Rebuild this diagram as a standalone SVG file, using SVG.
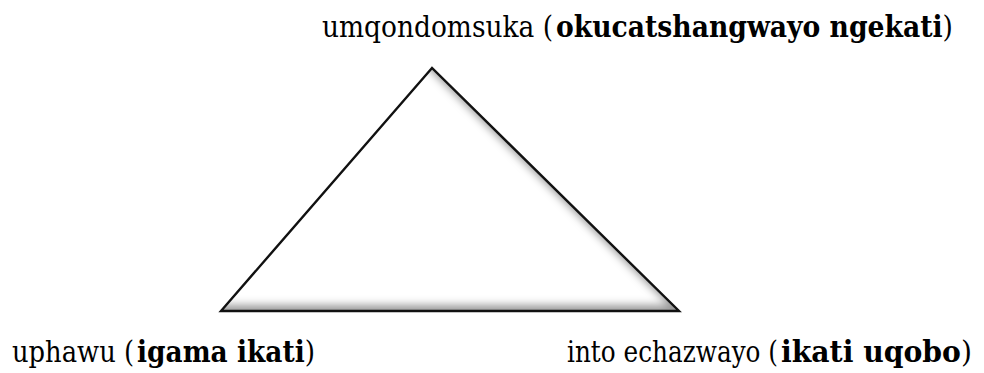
<svg xmlns="http://www.w3.org/2000/svg" width="984" height="373" viewBox="0 0 984 373">
<style>
.t{font-family:"DejaVu Serif","Liberation Serif",serif;fill:#000;font-size:30px}
.b{font-weight:bold}
.n{font-weight:normal}
</style>
<defs>
<clipPath id="tri"><polygon points="432,68 221,311 679,311"/></clipPath>
<filter id="blur" x="-20%" y="-20%" width="140%" height="140%"><feGaussianBlur stdDeviation="4"/></filter>
</defs>
<rect width="984" height="373" fill="#fff"/>
<g id="triangle">
<polygon points="432,68 221,311 679,311" fill="#fff"/>
<g clip-path="url(#tri)">
<path d="M0,0H984V373H0Z M432,68 L221,311 L679,311Z" fill-rule="evenodd" fill="#000" fill-opacity="0.4" transform="translate(-10,-6)" filter="url(#blur)"/>
</g>
<polygon points="432,68 221,311 679,311" fill="none" stroke="#111" stroke-width="2.4" stroke-linejoin="miter"/>
</g>
<g id="label-top">
<text class="t" x="322" y="37" textLength="231" lengthAdjust="spacingAndGlyphs">umqondomsuka (</text>
<text class="t b" x="556" y="37" textLength="397" lengthAdjust="spacingAndGlyphs">okucatshangwayo ngekati<tspan class="n">)</tspan></text>
</g>
<g id="label-left">
<text class="t" x="12" y="362" textLength="122" lengthAdjust="spacingAndGlyphs">uphawu (</text>
<text class="t b" x="137" y="362" textLength="178" lengthAdjust="spacingAndGlyphs">igama ikati<tspan class="n">)</tspan></text>
</g>
<g id="label-right">
<text class="t" x="567" y="362" textLength="211" lengthAdjust="spacingAndGlyphs">into echazwayo (</text>
<text class="t b" x="781" y="362" textLength="191" lengthAdjust="spacingAndGlyphs">ikati uqobo<tspan class="n">)</tspan></text>
</g>
<g id="connectors"></g>
</svg>
